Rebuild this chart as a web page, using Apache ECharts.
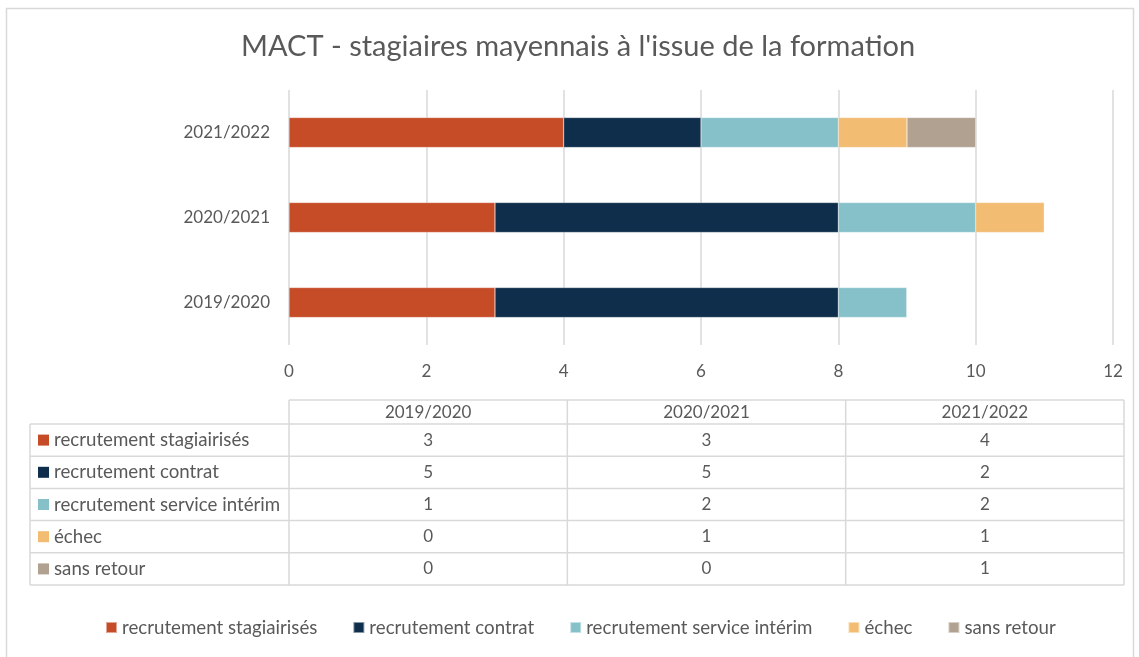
<!DOCTYPE html>
<html>
<head>
<meta charset="utf-8">
<script src="https://cdn.jsdelivr.net/npm/echarts@6/dist/echarts.min.js"></script>
<style>
html,body{margin:0;padding:0;background:#fff;}
#chart{width:1139px;height:657px;}
</style>
</head>
<body>
<div id="chart"></div>
<script>
const categories = ['2019/2020', '2020/2021', '2021/2022'];
const seriesNames = ['recrutement stagiairisés', 'recrutement contrat', 'recrutement service intérim', 'échec', 'sans retour'];
const stagiairises = [3, 3, 4];
const contrat = [5, 5, 2];
const interim = [1, 2, 2];
const echec = [0, 1, 1];
const sansRetour = [0, 0, 1];
const xTicks = [0, 2, 4, 6, 8, 10, 12];
const colors = ['#C64B27', '#0F2E4B', '#86C1CA', '#F2BC72', '#B1A190'];
const allValues = [stagiairises, contrat, interim, echec, sansRetour];

const FONT = 'Lato, "Open Sans", sans-serif';
const TXT = '#595959';
const LINE = '#d9d9d9';
const WORD_SIZE = 18.7;

// table layout
const tLeft = 30, tKeyRight = 289, tRight = 1124;
const tTop = 400, tHeadBottom = 424, tBottom = 585;
const colW = (tRight - tKeyRight) / categories.length;
const rowH = (tBottom - tHeadBottom) / seriesNames.length;

const graphics = [];
graphics.push({type:'rect', shape:{x:6.5, y:8.5, width:1127, height:700}, style:{fill:'none', stroke:LINE, lineWidth:1.5}, silent:true, z:-10});
graphics.push({type:'line', shape:{x1:tKeyRight, y1:tTop, x2:tRight, y2:tTop}, style:{stroke:LINE, lineWidth:1.5}});
for (let r = 0; r <= seriesNames.length; r++) {
  const y = tHeadBottom + r * rowH;
  graphics.push({type:'line', shape:{x1:tLeft, y1:y, x2:tRight, y2:y}, style:{stroke:LINE, lineWidth:1.5}});
}
graphics.push({type:'line', shape:{x1:tLeft, y1:tHeadBottom, x2:tLeft, y2:tBottom}, style:{stroke:LINE, lineWidth:1.5}});
for (let c = 0; c <= categories.length; c++) {
  const x = tKeyRight + c * colW;
  graphics.push({type:'line', shape:{x1:x, y1:tTop, x2:x, y2:tBottom}, style:{stroke:LINE, lineWidth:1.5}});
}
categories.forEach((cat, c) => {
  graphics.push({type:'text', x: tKeyRight + (c + 0.5) * colW, y: (tTop + tHeadBottom) / 2 + 1,
    style:{text:cat, fill:TXT, font:'17px ' + FONT, textAlign:'center', textVerticalAlign:'middle'}});
});
seriesNames.forEach((name, r) => {
  const cy = tHeadBottom + (r + 0.5) * rowH;
  graphics.push({type:'rect', shape:{x:38, y:cy - 5.5, width:11, height:11}, style:{fill:colors[r]}});
  graphics.push({type:'text', x: 54, y: cy, style:{text:name, fill:TXT, font:WORD_SIZE + 'px ' + FONT, textAlign:'left', textVerticalAlign:'middle'}});
  categories.forEach((cat, c) => {
    graphics.push({type:'text', x: tKeyRight + (c + 0.5) * colW, y: cy,
      style:{text:String(allValues[r][c]), fill:TXT, font:'17px ' + FONT, textAlign:'center', textVerticalAlign:'middle'}});
  });
});

const chart = echarts.init(document.getElementById('chart'));
chart.setOption({
  animation: false,
  backgroundColor: '#fff',
  color: colors,
  title: {
    text: 'MACT - stagiaires mayennais à l\'issue de la formation',
    left: 236, top: 27,
    textStyle: {color: TXT, fontSize: 29, fontWeight: 'normal', fontFamily: FONT}
  },
  legend: {
    bottom: 15, left: 100,
    itemWidth: 11, itemHeight: 11, itemGap: 35, icon: 'rect',
    textStyle: {color: TXT, fontSize: WORD_SIZE, fontFamily: FONT},
    data: seriesNames
  },
  grid: {left: 289, right: 26, top: 90, bottom: 312, containLabel: false},
  xAxis: {
    type: 'value', min: xTicks[0], max: xTicks[xTicks.length - 1], interval: 2,
    axisLine: {show: false}, axisTick: {show: false},
    axisLabel: {color: TXT, fontSize: 17, fontFamily: FONT, margin: 18},
    splitLine: {lineStyle: {color: LINE, width: 1.5}}
  },
  yAxis: {
    type: 'category', data: categories,
    axisLine: {show: false}, axisTick: {show: false},
    axisLabel: {color: TXT, fontSize: 17, fontFamily: FONT, margin: 19}
  },
  series: seriesNames.map((name, i) => ({
    name: name, type: 'bar', stack: 'total', data: allValues[i],
    barWidth: 30,
    itemStyle: {color: colors[i], borderColor: 'rgba(255,255,255,0.5)', borderWidth: 0.5}
  })),
  graphic: graphics
});
</script>
</body>
</html>
